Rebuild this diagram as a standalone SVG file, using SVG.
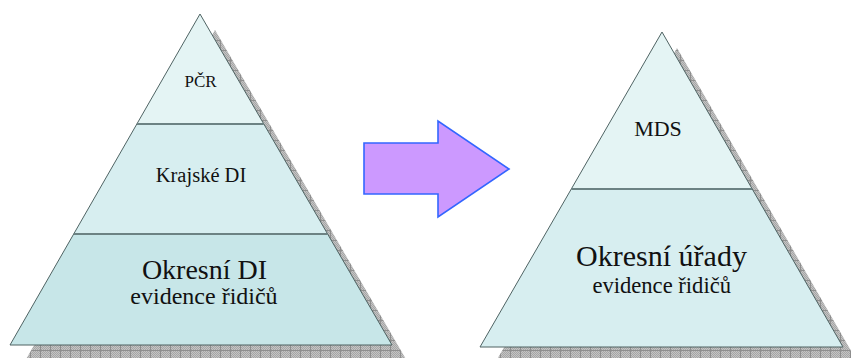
<svg xmlns="http://www.w3.org/2000/svg" width="851" height="358" viewBox="0 0 851 358">
  <defs>
    <pattern id="dots" width="2" height="2" patternUnits="userSpaceOnUse">
      <rect width="2" height="2" fill="#c4c4c4"/>
      <rect width="1" height="1" fill="#a6a6a6"/>
      <rect x="1" y="1" width="1" height="1" fill="#a6a6a6"/>
    </pattern>
    <pattern id="shadowGrid" width="10" height="10" patternUnits="userSpaceOnUse">
      <rect width="10" height="10" fill="url(#dots)"/>
      <path d="M0 0.5H10M0.5 0V10" stroke="#8e8e8e" stroke-width="1" fill="none"/>
    </pattern>
  </defs>
  <style>
    .shadow { fill: url(#shadowGrid); stroke: none; }
    .top { fill: #e4f4f4; }
    .mid { fill: #d7eef0; }
    .bot { fill: #c7e6e8; }
    .edge { fill: none; stroke: #4f6363; stroke-width: 1; stroke-linejoin: miter; }
    .div { stroke: #6c8283; stroke-width: 2.2; fill: none; }
    .lbl { fill: #111; text-anchor: middle; }
    .arrow { fill: #cc99ff; stroke: #3366ff; stroke-width: 1.6; stroke-linejoin: miter; }
  </style>

  <g id="left-pyramid">
    <polygon class="shadow" points="215,30 25,361 407,361"/>
    <g id="left-pcr">
      <polygon class="top" points="200,14 136.86,124 263.81,124"/>
      <text class="lbl" font-family="'Liberation Serif', Tinos, 'Times New Roman', 'DejaVu Serif', serif" x="200.5" y="86.5" font-size="17">PČR</text>
    </g>
    <g id="left-krajske">
      <polygon class="mid" points="136.86,124 263.81,124 327.61,234 73.72,234"/>
      <text class="lbl" font-family="'Liberation Serif', Tinos, 'Times New Roman', 'DejaVu Serif', serif" x="201" y="182" font-size="20.5">Krajské DI</text>
    </g>
    <g id="left-okresni">
      <polygon class="bot" points="73.72,234 327.61,234 392,345 10,345"/>
      <text class="lbl" font-family="'Liberation Serif', Tinos, 'Times New Roman', 'DejaVu Serif', serif" x="204.5" y="279" font-size="28">Okresní DI</text>
      <text class="lbl" font-family="'Liberation Serif', Tinos, 'Times New Roman', 'DejaVu Serif', serif" x="204" y="304" font-size="24">evidence řidičů</text>
    </g>
    <polygon class="edge" points="200,14 10,345 392,345"/>
    <line class="div" x1="136.86" y1="124" x2="263.81" y2="124"/>
    <line class="div" x1="73.72" y1="234" x2="327.61" y2="234"/>
  </g>

  <g id="right-pyramid">
    <polygon class="shadow" points="677,48 495,363 858,363"/>
    <g id="right-mds">
      <polygon class="top" points="662,32 571.29,189 752.21,189"/>
      <text class="lbl" font-family="'Liberation Serif', Tinos, 'Times New Roman', 'DejaVu Serif', serif" x="658" y="135.5" font-size="22">MDS</text>
    </g>
    <g id="right-okresni">
      <polygon class="mid" points="571.29,189 752.21,189 843,347 480,347"/>
      <text class="lbl" font-family="'Liberation Serif', Tinos, 'Times New Roman', 'DejaVu Serif', serif" x="661.5" y="265.5" font-size="30">Okresní úřady</text>
      <text class="lbl" font-family="'Liberation Serif', Tinos, 'Times New Roman', 'DejaVu Serif', serif" x="661.7" y="293" font-size="22.6">evidence řidičů</text>
    </g>
    <polygon class="edge" points="662,32 480,347 843,347"/>
    <line class="div" x1="571.29" y1="189" x2="752.21" y2="189"/>
  </g>

  <g id="connectors">
    <polygon class="arrow" points="364,143 438,143 438,121 509,169 438,217 438,194 364,194"/>
  </g>
</svg>
